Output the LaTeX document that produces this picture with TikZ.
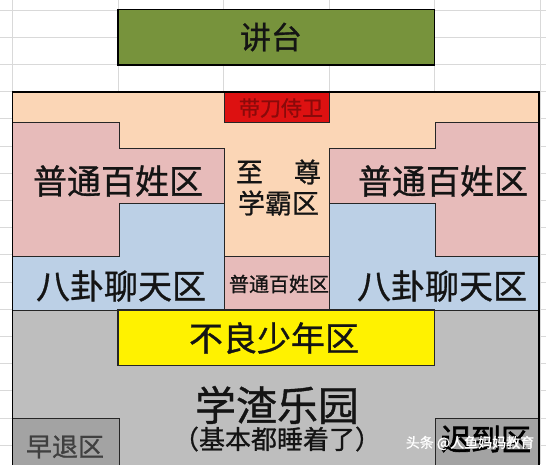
\documentclass[tikz,border=0pt]{standalone}
\usepackage{fontspec}
\newfontfamily\cjk[FakeBold=0.9]{Noto Sans CJK SC}
\newfontfamily\cjkheavy[FakeBold=2.2]{Noto Sans CJK SC}
\definecolor{gridc}{HTML}{D9D9D9}
\definecolor{podium}{HTML}{77933C}
\definecolor{peach}{HTML}{FBD6B6}
\definecolor{pinkz}{HTML}{E7BBBA}
\definecolor{bluez}{HTML}{BCD0E6}
\definecolor{grayz}{HTML}{BEBEBE}
\definecolor{darkz}{HTML}{A3A3A3}
\definecolor{redz}{HTML}{DD1111}
\definecolor{redtxt}{HTML}{8A0A0A}
\definecolor{txt}{HTML}{141414}
\begin{document}
\begin{tikzpicture}[x=1pt,y=-1pt,
  zone/.style={draw=black!85,line width=0.9pt},
  lbl/.style={inner sep=0pt,text=txt},
  fbig/.style={font=\cjk\fontsize{34}{38}\selectfont},
  fmid/.style={font=\cjk\fontsize{27}{30}\selectfont},
  fsmall/.style={font=\cjk\fontsize{20}{24}\selectfont}]
\useasboundingbox (0,0) rectangle (546,464);
\clip (0,0) rectangle (546,464);
\fill[white] (0,0) rectangle (546,464);
% spreadsheet grid
\foreach \gx in {12.5,118,223.5,329,434.5,540}
  \draw[gridc,line width=0.8pt] (\gx,0) -- (\gx,464);
\foreach \gi in {0,...,16}
  \draw[gridc,line width=0.8pt] (0,{10+27.2*\gi}) -- (546,{10+27.2*\gi});
% podium
\draw[fill=podium,line width=1.4pt] (118,9.5) rectangle (434.5,65);
\node[lbl,font=\cjk\fontsize{31}{34}\selectfont] (podiumtxt) at (271,37) {讲台};
% classroom frame background
\fill[peach] (12.5,92) rectangle (539,310);
% left pink / blue
\draw[zone,fill=pinkz] (12.5,122) -- (119,122) -- (119,148) -- (224,148) -- (224,203) -- (119,203) -- (119,256) -- (12.5,256) -- cycle;
\draw[zone,fill=bluez] (119,203) -- (224,203) -- (224,310) -- (12.5,310) -- (12.5,256) -- (119,256) -- cycle;
% right pink / blue
\draw[zone,fill=pinkz] (539,122) -- (435,122) -- (435,148) -- (329.5,148) -- (329.5,203) -- (435,203) -- (435,256) -- (539,256) -- cycle;
\draw[zone,fill=bluez] (435,203) -- (329.5,203) -- (329.5,310) -- (539,310) -- (539,256) -- (435,256) -- cycle;
% centre small pink
\draw[zone,fill=pinkz] (224,256) rectangle (329.5,310);
% guard box
\draw[zone,fill=redz] (224,92) rectangle (329.5,122);
% back area
\draw[zone,fill=grayz] (12.5,310) rectangle (539,480);
\draw[zone,fill=yellow,line width=1.2pt] (118,310) rectangle (434.5,365.5);
\draw[zone,fill=darkz] (12.5,418) rectangle (119,480);
\draw[zone,fill=darkz] (435,418) rectangle (539,480);
% outer frame
\draw[line width=1.4pt] (12.5,92) rectangle (539,480);
% labels
\node[lbl,text=redtxt,font=\cjk\fontsize{21}{24}\selectfont] (guard) at (281,108) {带刀侍卫};
\node[lbl,fbig] (pl) at (118,181) {普通百姓区};
\node[lbl,fbig] (pr) at (443,181) {普通百姓区};
\node[lbl,fbig] (bl) at (121,286) {八卦聊天区};
\node[lbl,fbig] (br) at (442,286) {八卦聊天区};
\node[lbl,fmid] (zhi) at (249.5,172) {至};
\node[lbl,fmid] (zun) at (307.5,172) {尊};
\node[lbl,fmid] (xueba) at (278.5,203) {学霸区};
\node[lbl,fsmall] (pc) at (279,284) {普通百姓区};
\node[lbl,fbig] (buliang) at (274,338) {不良少年区};
\node[lbl,font=\cjk\fontsize{41}{44}\selectfont] (xuezha) at (277,405) {学渣乐园};
\node[lbl,font=\cjk\fontsize{26}{28}\selectfont] (shui) at (277,439) {（基本都睡着了）};
\node[lbl,text=black!75,font=\cjk\fontsize{26}{28}\selectfont] (zaotui) at (65,447) {早退区};
\node[lbl,text=black,font=\cjkheavy\fontsize{30}{32}\selectfont] (chidao) at (486,439) {迟到区};
\node[lbl,text=white,font=\cjk\fontsize{14}{16}\selectfont] (wm) at (470,443) {头条 @人鱼妈妈教育};
\end{tikzpicture}
\end{document}
